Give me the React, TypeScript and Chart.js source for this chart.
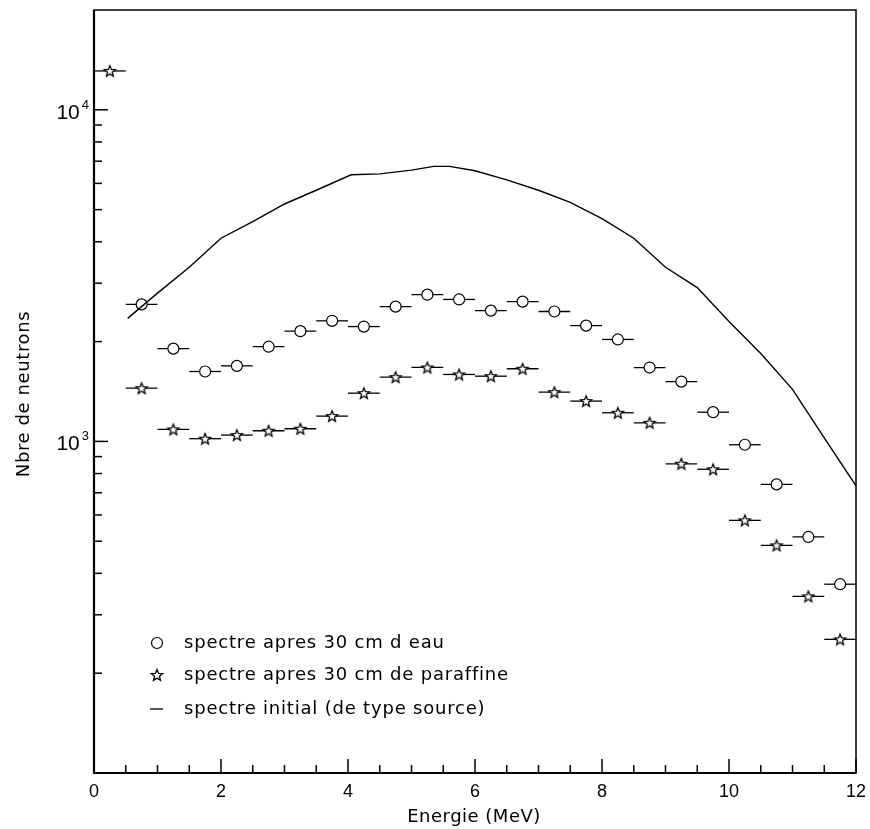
import React, { useEffect, useRef } from "react";
import { Chart, registerables } from "chart.js";

Chart.register(...registerables);

// ---- data ----
const binCentres = [0.25, 0.75, 1.25, 1.75, 2.25, 2.75, 3.25, 3.75, 4.25, 4.75, 5.25, 5.75, 6.25, 6.75, 7.25, 7.75, 8.25, 8.75, 9.25, 9.75, 10.25, 10.75, 11.25, 11.75];
const binHalfWidth = 0.25;
const eauCounts = [null, 2590, 1905, 1625, 1690, 1930, 2150, 2310, 2220, 2550, 2770, 2680, 2480, 2640, 2465, 2235, 2030, 1670, 1515, 1225, 977, 742, 515, 371];
const paraffineCounts = [13100, 1447, 1087, 1019, 1045, 1077, 1092, 1192, 1398, 1562, 1671, 1592, 1573, 1656, 1408, 1323, 1220, 1138, 856, 824, 578, 486, 341, 253];
const initialEnergy = [0.53, 1.0, 1.5, 2.0, 2.5, 3.0, 3.5, 4.05, 4.5, 5.0, 5.35, 5.6, 6.0, 6.5, 7.0, 7.5, 8.0, 8.5, 9.0, 9.5, 10.0, 10.5, 11.0, 11.5, 12.0];
const initialCounts = [2350, 2800, 3350, 4100, 4600, 5200, 5720, 6370, 6410, 6580, 6750, 6750, 6550, 6150, 5720, 5260, 4700, 4100, 3350, 2910, 2300, 1840, 1435, 1025, 735];

const xMin = 0;
const xMax = 12;
const yMin = 100;
const yMax = 20000;
const xMajorTicks = [0, 2, 4, 6, 8, 10, 12];
const xMinorTicks = [0.5, 1, 1.5, 2.5, 3, 3.5, 4.5, 5, 5.5, 6.5, 7, 7.5, 8.5, 9, 9.5, 10.5, 11, 11.5];
const yMajorTicks = [1000, 10000];
const yMajorBase = ["10", "10"];
const yMajorExp = ["3", "4"];
const yMinorTicks = [200, 300, 400, 500, 600, 700, 800, 900, 2000, 3000, 4000, 5000, 6000, 7000, 8000, 9000];
const legendLabels = ["spectre apres 30 cm d eau", "spectre apres 30 cm de paraffine", "spectre initial (de type source)"];
const xTitle = "Energie (MeV)";
const yTitle = "Nbre de neutrons";

const TEXT_FONT = "'DejaVu Sans', sans-serif";
const NUM_FONT = "'Liberation Sans', Arial, sans-serif";

function drawStarPath(ctx: CanvasRenderingContext2D, cx: number, cy: number, R: number, r: number) {
  ctx.beginPath();
  for (let i = 0; i < 10; i++) {
    const rad = i % 2 === 0 ? R : r;
    const a = -Math.PI / 2 + (i * Math.PI) / 5;
    const px = cx + rad * Math.cos(a);
    const py = cy + rad * Math.sin(a);
    if (i === 0) ctx.moveTo(px, py);
    else ctx.lineTo(px, py);
  }
  ctx.closePath();
  ctx.fillStyle = "#fff";
  ctx.fill();
  ctx.strokeStyle = "#000";
  ctx.lineWidth = 1.3;
  ctx.stroke();
}

function makeStarImage() {
  const c = document.createElement("canvas");
  c.width = 16;
  c.height = 16;
  const g = c.getContext("2d")!;
  drawStarPath(g, 8, 8.5, 5.8, 2.5);
  return c;
}

const decorPlugin = {
  id: "decor",
  beforeDatasetsDraw(chart: any) {
    const ctx: CanvasRenderingContext2D = chart.ctx;
    const xs = chart.scales.x;
    const ys = chart.scales.y;
    ctx.save();
    ctx.strokeStyle = "#000";
    ctx.lineWidth = 1.3;
    const series = [eauCounts, paraffineCounts];
    series.forEach((vals) => {
      vals.forEach((v, i) => {
        if (v == null) return;
        const y = ys.getPixelForValue(v);
        const x0 = xs.getPixelForValue(binCentres[i] - binHalfWidth);
        const x1 = xs.getPixelForValue(binCentres[i] + binHalfWidth);
        ctx.beginPath();
        ctx.moveTo(x0, y);
        ctx.lineTo(x1, y);
        ctx.stroke();
      });
    });
    ctx.restore();
  },
  afterDraw(chart: any) {
    const ctx: any = chart.ctx;
    const a = chart.chartArea;
    const xs = chart.scales.x;
    const ys = chart.scales.y;
    ctx.save();
    // frame
    ctx.strokeStyle = "#000";
    ctx.lineWidth = 1.5;
    ctx.strokeRect(a.left, a.top, a.right - a.left, a.bottom - a.top);
    ctx.lineWidth = 2.2;
    ctx.beginPath();
    ctx.moveTo(a.left, a.top);
    ctx.lineTo(a.left, a.bottom);
    ctx.lineTo(a.right, a.bottom);
    ctx.stroke();

    // x ticks
    ctx.lineWidth = 1.5;
    xMajorTicks.forEach((t) => {
      const x = xs.getPixelForValue(t);
      ctx.beginPath();
      ctx.moveTo(x, a.bottom);
      ctx.lineTo(x, a.bottom - 14);
      ctx.stroke();
    });
    xMinorTicks.forEach((t) => {
      const x = xs.getPixelForValue(t);
      ctx.beginPath();
      ctx.moveTo(x, a.bottom);
      ctx.lineTo(x, a.bottom - 8);
      ctx.stroke();
    });
    // y ticks
    yMajorTicks.forEach((t) => {
      const y = ys.getPixelForValue(t);
      ctx.beginPath();
      ctx.moveTo(a.left, y);
      ctx.lineTo(a.left + 14, y);
      ctx.stroke();
    });
    yMinorTicks.forEach((t) => {
      const y = ys.getPixelForValue(t);
      ctx.beginPath();
      ctx.moveTo(a.left, y);
      ctx.lineTo(a.left + 8, y);
      ctx.stroke();
    });

    // x tick labels
    ctx.fillStyle = "#000";
    ctx.font = `18px ${NUM_FONT}`;
    ctx.textAlign = "center";
    ctx.textBaseline = "alphabetic";
    xMajorTicks.forEach((t) => {
      ctx.fillText(String(t), xs.getPixelForValue(t), a.bottom + 24);
    });

    // y tick labels 10^n
    yMajorTicks.forEach((t, i) => {
      const y = ys.getPixelForValue(t);
      ctx.font = `13px ${NUM_FONT}`;
      const ew = ctx.measureText(yMajorExp[i]).width;
      ctx.textAlign = "left";
      const expX = a.left - 5 - ew;
      ctx.fillText(yMajorExp[i], expX, y - 1);
      ctx.font = `21px ${NUM_FONT}`;
      ctx.textAlign = "right";
      ctx.fillText(yMajorBase[i], expX - 2, y + 9);
    });

    // axis titles
    ctx.font = `18px ${TEXT_FONT}`;
    ctx.letterSpacing = "0.5px";
    ctx.textAlign = "center";
    ctx.fillText(xTitle, 474, a.bottom + 49);
    ctx.save();
    ctx.translate(29, 394);
    ctx.rotate(-Math.PI / 2);
    ctx.font = `18px ${TEXT_FONT}`;
    ctx.letterSpacing = "0.6px";
    ctx.fillText(yTitle, 0, 0);
    ctx.restore();

    // legend
    const lx = 157;
    const rows = [643, 675, 709];
    ctx.font = `18px ${TEXT_FONT}`;
    ctx.letterSpacing = "0.8px";
    ctx.textAlign = "left";
    ctx.textBaseline = "middle";
    legendLabels.forEach((lab, i) => {
      ctx.fillText(lab, 184, rows[i]);
    });
    ctx.letterSpacing = "0px";
    ctx.lineWidth = 1.2;
    ctx.beginPath();
    ctx.arc(lx, rows[0], 5.5, 0, Math.PI * 2);
    ctx.fillStyle = "#fff";
    ctx.fill();
    ctx.stroke();
    drawStarPath(ctx, lx, rows[1] + 0.5, 6, 2.6);
    ctx.strokeStyle = "#000";
    ctx.lineWidth = 1.3;
    ctx.beginPath();
    ctx.moveTo(150, rows[2]);
    ctx.lineTo(163, rows[2]);
    ctx.stroke();
    ctx.restore();
  },
};

export default function App() {
  const ref = useRef<HTMLCanvasElement | null>(null);
  useEffect(() => {
    if (!ref.current) return;
    const star = makeStarImage();
    const eauData = binCentres
      .map((x, i) => ({ x, y: eauCounts[i] }))
      .filter((p) => p.y != null);
    const parData = binCentres.map((x, i) => ({ x, y: paraffineCounts[i] }));
    const initData = initialEnergy.map((x, i) => ({ x, y: initialCounts[i] }));
    const chart = new Chart(ref.current, {
      type: "scatter",
      data: {
        datasets: [
          {
            label: legendLabels[2],
            data: initData,
            showLine: true,
            borderColor: "#000",
            borderWidth: 1.4,
            pointRadius: 0,
            tension: 0,
            fill: false,
          },
          {
            label: legendLabels[0],
            data: eauData as any,
            showLine: false,
            pointStyle: "circle",
            pointRadius: 5.5,
            backgroundColor: "#fff",
            borderColor: "#000",
            borderWidth: 1.2,
          },
          {
            label: legendLabels[1],
            data: parData,
            showLine: false,
            pointStyle: star as any,
            pointRadius: 6,
            backgroundColor: "#fff",
            borderColor: "#000",
          },
        ],
      },
      options: {
        animation: false,
        responsive: false,
        layout: { padding: { left: 94, right: 14, top: 10, bottom: 56 } },
        scales: {
          x: { type: "linear", min: xMin, max: xMax, display: false },
          y: { type: "logarithmic", min: yMin, max: yMax, display: false },
        },
        plugins: { legend: { display: false }, tooltip: { enabled: false } },
      },
      plugins: [decorPlugin],
    });
    return () => chart.destroy();
  }, []);
  return (
    <div style={{ position: "fixed", left: 0, top: 0, width: 870, height: 829, background: "#fff" }}>
      <canvas ref={ref} width={870} height={829} style={{ display: "block" }} />
    </div>
  );
}
